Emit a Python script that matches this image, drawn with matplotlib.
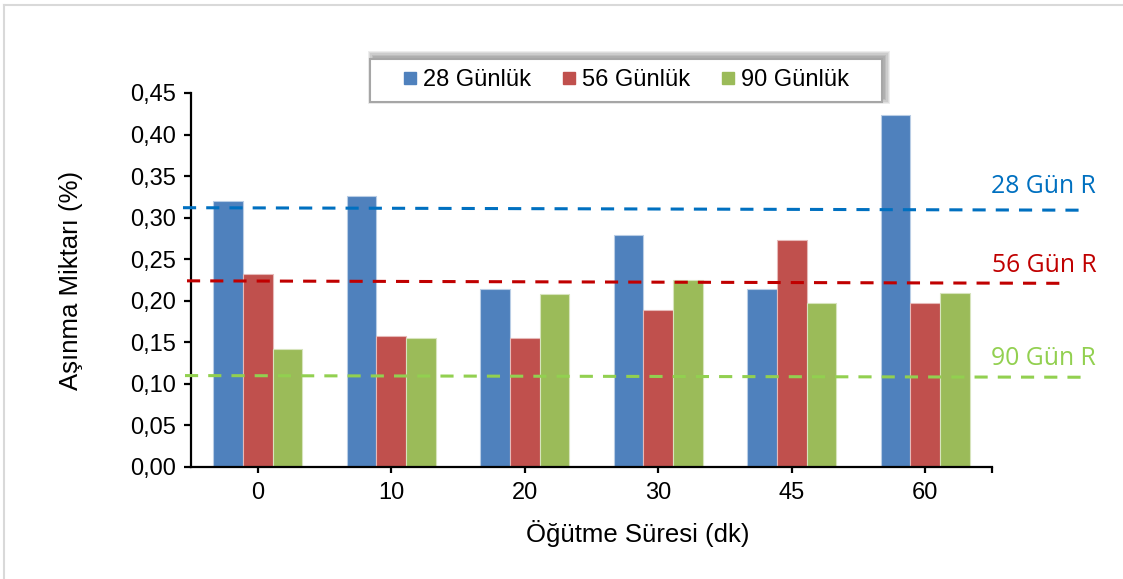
import matplotlib.pyplot as plt
import numpy as np
from matplotlib.patches import Rectangle
from matplotlib.lines import Line2D

# öğütme süreleri (dk) ve aşınma miktarları (%)
sureler = ['0', '10', '20', '30', '45', '60']
gun28 = [0.320, 0.326, 0.214, 0.279, 0.214, 0.423]
gun56 = [0.232, 0.158, 0.155, 0.189, 0.273, 0.197]
gun90 = [0.142, 0.155, 0.208, 0.225, 0.197, 0.209]
seri_adlari = ['28 Günlük', '56 Günlük', '90 Günlük']

# referans (R) numune değerleri: başlangıç ve bitiş
ref_adlari = ['28 Gün R', '56 Gün R', '90 Gün R']
ref_baslangic = [0.312, 0.224, 0.110]
ref_bitis = [0.309, 0.221, 0.108]
ref_x = [(-0.56, 6.18), (-0.53, 6.05), (-0.545, 6.18)]
ref_etiket_y = [0.337, 0.243, 0.131]

bar_renk = ['#4F81BD', '#C0504D', '#9BBB59']
bar_kenar = ['#B9CDE5', '#E6B9B8', '#D7E4BD']
ref_renk = ['#0070C0', '#C00000', '#92D050']

plt.rcParams['font.family'] = ['Liberation Sans', 'DejaVu Sans']

fig = plt.figure(figsize=(11.23, 5.79), dpi=100)
ax = fig.add_axes([191 / 1123, 1 - 467 / 579, (992 - 191) / 1123, (467 - 93) / 579])

x = np.arange(len(sureler))
w = 0.222
for i, vals in enumerate([gun28, gun56, gun90]):
    ax.bar(x + (i - 1) * w, vals, width=w, color=bar_renk[i],
           edgecolor=bar_kenar[i], linewidth=0.8, zorder=2)

for i in range(3):
    ax.plot(ref_x[i], [ref_baslangic[i], ref_bitis[i]], color=ref_renk[i],
            lw=2.2, dashes=(4.3, 3.3), clip_on=False, zorder=3)
    ax.text(6.28, ref_etiket_y[i], ref_adlari[i], color=ref_renk[i],
            fontsize=17.8, family='Open Sans', ha='right', va='center')

ax.set_xlim(-0.5, 5.5)
ax.set_ylim(0, 0.45)
ax.set_xticks(x)
ax.set_xticklabels(sureler)
ax.set_xticks([5.5], minor=True)
ax.set_yticks(np.arange(0, 0.451, 0.05))
ax.set_yticklabels([f'{v:.2f}'.replace('.', ',') for v in np.arange(0, 0.451, 0.05)])

for s in ['top', 'right']:
    ax.spines[s].set_visible(False)
for s in ['left', 'bottom']:
    ax.spines[s].set_linewidth(1.6)
ax.tick_params(axis='y', direction='out', length=5, width=1.6, labelsize=17, pad=6)
ax.tick_params(axis='x', which='both', direction='out', length=4.5, width=1.6, labelsize=17, pad=6)

ax.set_xlabel('Öğütme Süresi (dk)', fontsize=18.5)
ax.xaxis.set_label_coords(0.558, -0.142)
ax.set_ylabel('Aşınma Miktarı (%)', fontsize=18.5, labelpad=34)

# gösterge kutusu ve gölgesi
lx0, lx1 = 370 / 1123, 882 / 1123
ly0, ly1 = 1 - 102 / 579, 1 - 59 / 579
for k in range(5):
    d = k * 1.3
    fig.add_artist(Rectangle((lx0 + 3 / 1123 - d / 1123, ly0 + 3 / 579 - d / 579),
                             lx1 - lx0 + 2 * d / 1123, ly1 - ly0 + 2 * d / 579,
                             transform=fig.transFigure, facecolor='black',
                             edgecolor='none', alpha=0.07, zorder=4))
fig.add_artist(Rectangle((lx0, ly0), lx1 - lx0, ly1 - ly0, transform=fig.transFigure,
                         facecolor='white', edgecolor='#A6A6A6', lw=1.5, zorder=5))
handles = [Line2D([], [], marker='s', ls='none', markersize=9, color=c) for c in bar_renk]
leg = fig.legend(handles, seri_adlari, loc='center', ncol=3, frameon=False,
                 bbox_to_anchor=((lx0 + lx1) / 2, (ly0 + ly1) / 2), fontsize=17,
                 handlelength=0.6, handletextpad=0.25, columnspacing=1.3)
leg.set_zorder(6)

# dış çerçeve
fig.add_artist(Line2D([4 / 1123, 4 / 1123], [0, 1 - 5 / 579], transform=fig.transFigure,
                      color='#D9D9D9', lw=1.5))
fig.add_artist(Line2D([4 / 1123, 1], [1 - 5 / 579, 1 - 5 / 579], transform=fig.transFigure,
                      color='#D9D9D9', lw=1.5))

fig.savefig('out.png', dpi=100)
